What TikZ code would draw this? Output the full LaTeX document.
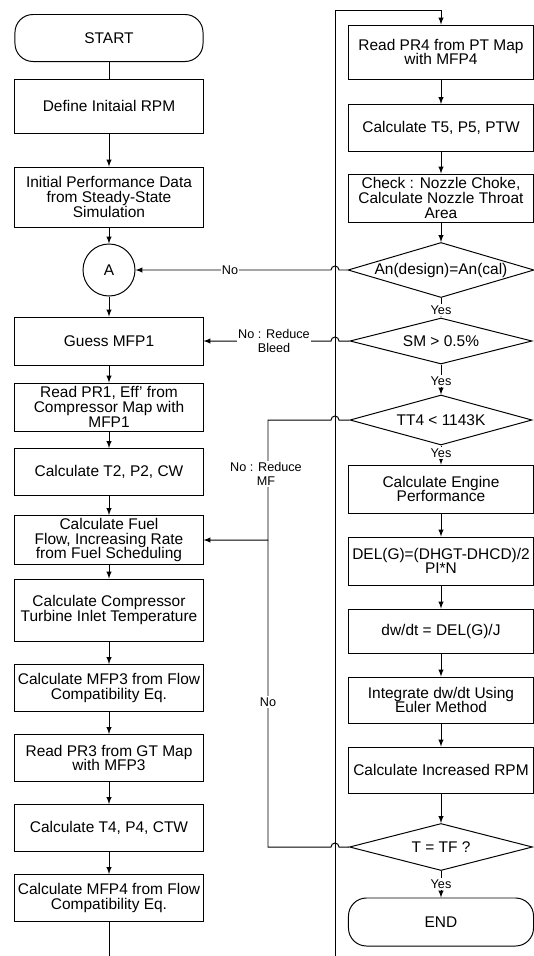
\documentclass[tikz,border=0pt]{standalone}
\usepackage{fontspec}
\setmainfont{Liberation Sans}
\usetikzlibrary{shapes.geometric,calc}

\begin{document}
\begin{tikzpicture}[x=0.025cm, y=-0.025cm, >=latex, line width=0.7pt,
    every node/.style={font=\fontsize{11}{10.4}\selectfont},
    lbox/.style={draw, rectangle, align=center, inner sep=0pt, minimum width=4.7cm},
    rbox/.style={draw, rectangle, align=center, inner sep=0pt, minimum width=4.625cm},
    term/.style={draw, rectangle, rounded corners=0.45cm, minimum height=1.2cm},
    test/.style={draw, diamond, aspect=3.5, inner sep=0pt, minimum width=4.6cm},
    lbl/.style={fill=white, inner sep=1pt, align=center, font=\fontsize{9}{9.5}\selectfont}]
  \useasboundingbox (0,0) rectangle (534,956);
  % columna esquerra
  \node[term, minimum width=4.7cm, minimum height=1.175cm] (start) at (109,38) {START};
  \node[lbox, minimum height=1.35cm] (define) at (109,106) {Define Initaial RPM};
  \node[lbox, minimum height=1.5cm] (init) at (109,197) {Initial Performance Data\\from Steady-State\\Simulation};
  \node[draw, circle, minimum size=1.3cm, inner sep=0pt] (A) at (109,270) {A};
  \node[lbox, minimum height=1.2cm] (guess) at (109,341) {Guess MFP1};
  \node[lbox, minimum height=1.2cm] (pr1) at (109,407) {Read PR1, Eff' from\\Compressor Map with\\MFP1};
  \node[lbox, minimum height=1.175cm] (t2) at (109,472) {Calculate T2, P2, CW};
  \node[lbox, minimum height=1.225cm] (fuel) at (109,540) {Calculate Fuel\\Flow, Increasing Rate\\from Fuel Scheduling};
  \node[lbox, minimum height=1.55cm] (comp) at (109,610) {Calculate Compressor\\Turbine Inlet Temperature};
  \node[lbox, minimum height=1.175cm] (mfp3) at (109,688) {Calculate MFP3 from Flow\\Compatibility Eq.};
  \node[lbox, minimum height=1.175cm] (pr3) at (109,758) {Read PR3 from GT Map\\with MFP3};
  \node[lbox, minimum height=1.175cm] (t4) at (109,828) {Calculate T4, P4, CTW};
  \node[lbox, minimum height=1.175cm] (mfp4) at (109,898) {Calculate MFP4 from Flow\\Compatibility Eq.};
  \coordinate (leftbot) at (109,956);
  % columna dreta
  \node[rbox, minimum height=1.35cm] (pr4) at (441,52) {Read PR4 from PT Map\\with MFP4};
  \node[rbox, minimum height=1.175cm] (t5) at (441,128) {Calculate T5, P5, PTW};
  \node[rbox, minimum height=1.2cm] (check) at (441,198) {Check : Nozzle Choke,\\Calculate Nozzle Throat\\Area};
  \node[test, minimum width=4.65cm, minimum height=1.375cm] (an) at (441,270) {An(design)=An(cal)};
  \node[test, minimum width=4.55cm, minimum height=1.15cm] (sm) at (441,341) {SM > 0.5\%};
  \node[test, minimum width=4.55cm, minimum height=1.25cm] (tt4) at (441,420) {TT4 < 1143K};
  \node[rbox, minimum height=1.2cm] (eng) at (441,489) {Calculate Engine\\Performance};
  \node[rbox, minimum height=1.2cm] (del) at (441,561) {DEL(G)=(DHGT-DHCD)/2\\PI*N};
  \node[rbox, minimum height=1.1cm] (dw) at (441,631) {dw/dt = DEL(G)/J};
  \node[rbox, minimum height=1.15cm] (int) at (441,700) {Integrate dw/dt Using\\Euler Method};
  \node[rbox, minimum height=1.15cm] (rpm) at (441,770) {Calculate Increased RPM};
  \node[test, minimum width=4.575cm, minimum height=1.175cm] (tf) at (441,847) {T = TF ?};
  \node[term, minimum width=4.625cm, minimum height=1.2cm] (end) at (441,922) {END};
  % linia de retorn
  \coordinate (trunk) at (335,956);
  \coordinate (trunktop) at (335,10);
  \coordinate (mfx) at (268,0);
  % fletxes esquerra
  \draw (start) -- (define);
  \draw[->] (define) -- (init);
  \draw[->] (init) -- (A);
  \draw[->] (A) -- (guess);
  \draw[->] (guess) -- (pr1);
  \draw[->] (pr1) -- (t2);
  \draw[->] (t2) -- (fuel);
  \draw[->] (fuel) -- (comp);
  \draw[->] (comp) -- (mfp3);
  \draw[->] (mfp3) -- (pr3);
  \draw[->] (pr3) -- (t4);
  \draw[->] (t4) -- (mfp4);
  \draw (mfp4) -- (leftbot);
  % fletxes dreta
  \draw[->] (trunk) -- (trunktop) -| (pr4);
  \draw[->] (pr4) -- (t5);
  \draw[->] (t5) -- (check);
  \draw[->] (check) -- (an);
  \draw[->] (an) -- (sm);
  \draw[->] (sm) -- (tt4);
  \draw[->] (tt4) -- (eng);
  \draw[->] (eng) -- (del);
  \draw[->] (del) -- (dw);
  \draw[->] (dw) -- (int);
  \draw[->] (int) -- (rpm);
  \draw[->] (rpm) -- (tf);
  \draw[->] (tf) -- (end);
  % branques No (amb salt sobre la linia de retorn)
  \draw[->] (an.west) -- ($(an.west -| trunk)+(4,0)$) arc[start angle=0, end angle=180, radius=0.1cm] -- (A);
  \draw[->] (sm.west) -- ($(sm.west -| trunk)+(4,0)$) arc[start angle=0, end angle=180, radius=0.1cm] -- (guess);
  \draw[->] (tt4.west) -- ($(tt4.west -| trunk)+(4,0)$) arc[start angle=0, end angle=180, radius=0.1cm] -- (tt4.west -| mfx) |- (fuel);
  \draw (tf.west) -- ($(tf.west -| trunk)+(4,0)$) arc[start angle=0, end angle=180, radius=0.1cm] -- (tf.west -| mfx) -- (fuel.east -| mfx);
  % etiquetes
  \node[lbl] (noa) at (230,270) {No};
  \node[lbl] (nobleed) at (274,341) {No : Reduce\\Bleed};
  \node[lbl] (nomf) at (266,474) {No : Reduce\\MF};
  \node[lbl] (notf) at (268,702) {No};
  \node[lbl] (yes1) at (441,310) {Yes};
  \node[lbl] (yes2) at (441,381) {Yes};
  \node[lbl] (yes3) at (441,453) {Yes};
  \node[lbl] (yes4) at (441,884) {Yes};
\end{tikzpicture}
\end{document}
